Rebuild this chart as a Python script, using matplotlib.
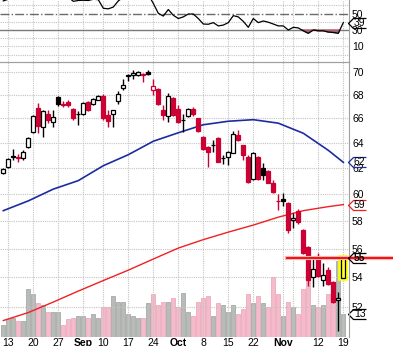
import numpy as np
import matplotlib
matplotlib.use("Agg")
from matplotlib import pyplot as plt
from matplotlib.path import Path
from matplotlib.ticker import NullLocator, NullFormatter
from matplotlib.transforms import blended_transform_factory

plt.rcParams['font.family'] = ['Liberation Sans', 'DejaVu Sans']

# Daily prices, trading days Aug 10 - Nov 19
opens = [61.6, 62.1, 62.95, 62.85, 62.8, 63.7, 64.9, 66.9, 65.3, 66.4,
         65.7, 67.8, 67.25, 67.35, 66.8, 66.4, 66.4, 67.4, 67.2, 67.6,
         67.9, 66.3, 66.4, 67.45, 68.6, 69.65, 69.7, 69.75, 69.8, 70.0,
         68.4, 68.5, 66.7, 66.2, 67.7, 66.8, 65.9, 66.2, 66.8, 66.0,
         64.5, 63.7, 63.85, 64.4, 62.8, 62.9, 63.2, 64.6, 63.8, 62.9,
         61.15, 62.9, 62.0, 61.8, 60.85, 59.5, 59.65, 59.35, 58.05, 58.75,
         57.35, 56.15, 54.0, 55.45, 53.8, 54.5, 53.7, 52.5, 53.95]
closes = [61.9, 62.7, 62.9, 62.8, 63.3, 64.4, 66.2, 65.4, 66.6, 65.9,
          66.1, 67.2, 67.15, 67.1, 66.0, 66.35, 67.3, 66.7, 67.65, 67.9,
          66.0, 65.75, 66.7, 68.1, 68.85, 69.75, 69.9, 70.0, 69.75, 69.8,
          68.8, 67.2, 66.3, 67.9, 66.3, 65.7, 65.85, 66.8, 66.35, 64.95,
          63.5, 63.3, 63.8, 62.5, 62.75, 63.3, 64.75, 64.2, 63.0, 60.9,
          63.2, 61.15, 61.45, 60.85, 60.15, 59.45, 59.5, 57.35, 58.2, 57.9,
          55.7, 53.8, 54.6, 54.1, 54.2, 53.55, 52.35, 52.65, 55.35]
highs = [62.0, 62.8, 63.5, 63.1, 63.4, 64.45, 66.3, 67.3, 66.7, 66.7,
         66.7, 67.9, 67.5, 67.55, 66.9, 66.6, 67.4, 67.5, 67.7, 68.0,
         68.05, 66.7, 66.75, 68.3, 69.35, 69.85, 70.15, 70.1, 69.9, 70.2,
         69.4, 68.55, 67.1, 68.15, 67.8, 67.1, 66.4, 66.9, 66.95, 66.05,
         64.55, 63.75, 64.2, 64.45, 63.0, 63.35, 64.95, 65.05, 63.85, 63.0,
         63.25, 62.95, 62.4, 61.85, 61.1, 60.0, 60.05, 59.4, 58.55, 58.85,
         57.4, 56.2, 55.5, 55.7, 55.0, 54.75, 53.75, 53.0, 55.5]
lows = [61.5, 62.0, 62.6, 62.45, 62.6, 63.6, 64.8, 64.8, 64.5, 65.6,
        65.3, 67.05, 67.0, 67.0, 65.9, 65.45, 66.3, 66.6, 67.1, 67.55,
        65.85, 65.3, 65.3, 67.2, 68.4, 69.2, 69.35, 69.6, 69.1, 69.75,
        68.0, 67.1, 65.85, 65.7, 66.2, 65.6, 64.85, 66.15, 66.2, 64.9,
        63.45, 62.1, 63.3, 62.45, 62.3, 62.2, 63.15, 64.15, 62.6, 60.85,
        61.1, 61.1, 61.1, 60.8, 60.05, 58.8, 59.1, 57.1, 57.45, 57.8,
        55.6, 53.4, 53.35, 54.05, 53.45, 53.5, 52.3, 50.5, 53.9]
volumes = [7, 10, 11, 9, 9, 27, 24, 19, 18, 14,
           14, 14, 7, 10, 11, 12, 12, 11, 13, 11,
           17, 17, 23, 20, 20, 13, 12, 11, 11, 19,
           24, 18, 20, 20, 22, 17, 25, 14, 12, 20,
           22, 23, 12, 19, 18, 14, 18, 13, 16, 24,
           19, 23, 19, 17, 34, 24, 12, 20, 17, 13,
           27, 32, 18, 17, 18, 24, 31, 43, 13]
rsi = [65.5, 67.5, 69, 68, 70, 72, 75, 70, 72, 69,
       70, 73, 71, 70, 65, 66, 66.3, 66, 67.5, 67,
       56.5, 55.8, 58, 65.5, 70, 72, 73, 74, 72, 73,
       62.5, 50.4, 47, 55, 48, 44, 46, 49.5, 49.5, 44,
       37.3, 37, 39, 35, 36, 39, 47.5, 46, 40.5, 33.3,
       44, 39, 41, 39.5, 37.3, 35, 35, 30, 33.3, 32.5,
       29, 26, 30, 29, 29, 27.5, 27, 26, 39]

# Moving averages, sampled weekly
ma_days = [0, 5, 10, 15, 20, 25, 30, 35, 40, 45, 50, 55, 60, 65, 68]
ma50 = [58.75, 59.48, 60.37, 61.02, 62.18, 63.05, 64.13, 64.82, 65.48,
        65.77, 65.9, 65.61, 64.78, 63.4, 62.45]
ma200 = [51.14, 51.66, 52.35, 53.08, 53.79, 54.5, 55.27, 56.04, 56.64,
         57.18, 57.69, 58.27, 58.75, 59.05, 59.2]

# Axis labels
date_ticks = [1, 6, 11, 16, 20, 25, 30, 35, 40, 45, 50, 56, 63, 68]
date_labels = ['13', '20', '27', 'Sep', '10', '17', '24', 'Oct', '8', '15',
               '22', 'Nov', '12', '19']
week_lines = [1, 6, 11, 16, 20, 25, 30, 35, 40, 45, 50, 56, 58, 63, 68]
price_ticks = [52, 54, 56, 58, 60, 62, 64, 66, 68, 70]
rsi_ticks = [50, 30, 10]

RED = '#cc0033'
GRID = '#c4c4c4'
SPINE = '#a0a0a0'
LEVEL_START = 56.7

x = np.arange(len(closes))
o = np.array(opens)
c = np.array(closes)
prev = np.r_[c[0], c[:-1]]
edges = [RED if c[i] < prev[i] else 'black' for i in x]
faces = ['white' if c[i] >= o[i] else edges[i] for i in x]
faces[-1] = '#ffff30'

# Figure and panels
fig = plt.figure(figsize=(3.93, 3.46), dpi=100)
rect_main = [0, 9 / 346, 349 / 393, 274.7 / 346]
rect_rsi = [0, 283.7 / 346, 349 / 393, 62.3 / 346]

ax_vol = fig.add_axes(rect_main)
ax = fig.add_axes(rect_main, sharex=ax_vol)
ax_rsi = fig.add_axes(rect_rsi, sharex=ax_vol)
ax_vol.set_zorder(1)
ax.set_zorder(2)
ax.set_facecolor('none')

# Volume bars behind prices
vol_faces = ['#f4bccb' if e == RED else '#b8bcb8' for e in edges]
vol_edges = ['#eaa0b4' if e == RED else '#9ca09c' for e in edges]
ax_vol.bar(x, volumes, width=0.8, color=vol_faces, edgecolor=vol_edges, linewidth=0.5)
ax_vol.set_ylim(0, 155)
ax_vol.axis('off')

# Price panel
ax.set_yscale('log')
ax.set_xlim(-0.66, 69.14)
ax.set_ylim(50.09, 70.85)
for p in price_ticks:
    ax.axhline(p, color=GRID, lw=0.8, ls=(0, (1, 1)), zorder=0.5)
for d in week_lines:
    ax.axvline(d, color=GRID, lw=0.8, ls=(0, (1, 1)), zorder=0.5)
    ax_rsi.axvline(d, color=GRID, lw=0.8, ls=(0, (1, 1)), zorder=0.5)

ax.plot(ma_days, ma50, color='#1c2ca0', lw=1.2, zorder=2.5)
ax.plot(ma_days, ma200, color='#f02020', lw=1.0, zorder=2.5)

# Candles
ax.vlines(x, lows, highs, colors=edges, lw=1, zorder=3)
ax.bar(x[-1:], np.abs(c - o)[-1:], bottom=np.minimum(o, c)[-1:], width=0.8,
       color='#ffff00', edgecolor='#ffff00', linewidth=4, zorder=3.5)
ax.bar(x, np.abs(c - o), bottom=np.minimum(o, c), width=0.8, color=faces,
       edgecolor=['black' if i == x[-1] else edges[i] for i in x],
       linewidth=0.9, zorder=4)

# Last close level
ax.plot([LEVEL_START, 78], [closes[-1]] * 2, color='#ffb4b4', lw=3, zorder=4.5, clip_on=False)
ax.plot([LEVEL_START, 78], [closes[-1]] * 2, color='#ee1111', lw=1.4, zorder=4.6, clip_on=False)

ax.yaxis.tick_right()
ax.set_yticks(price_ticks)
ax.set_yticklabels([str(p) for p in price_ticks])
ax.yaxis.set_minor_locator(NullLocator())
ax.yaxis.set_minor_formatter(NullFormatter())
ax.tick_params(axis='y', length=0, pad=2.2, labelsize=7.5)
ax.set_xticks(date_ticks)
ax.set_xticklabels(date_labels)
ax.tick_params(axis='x', length=0, pad=1, labelsize=7.5)
for lbl in ax.get_xticklabels():
    if not lbl.get_text().isdigit():
        lbl.set_fontweight('bold')

for s in ['left', 'bottom']:
    ax.spines[s].set_visible(False)
for s in ['right', 'top']:
    ax.spines[s].set_color(SPINE)

# RSI panel
ax_rsi.set_ylim(-9.4, 66.6)
for r in [0, 10, 20, 40, 60]:
    ax_rsi.axhline(r, color=GRID, lw=0.8, ls=(0, (1, 1)), zorder=0.5)
ax_rsi.axhline(30, color='#7a7a7a', lw=1.0, zorder=1)
ax_rsi.axhline(50, color='#6a6a6a', lw=1.0, ls='-.', zorder=1)
r = np.array(rsi)
ax_rsi.fill_between(x, r, 30, where=r < 30, interpolate=True, color='#a8606e', zorder=1.5)
ax_rsi.plot(x, r, color='black', lw=0.9, zorder=2)
ax_rsi.yaxis.tick_right()
ax_rsi.set_yticks(rsi_ticks)
ax_rsi.set_yticklabels([str(t) for t in rsi_ticks])
ax_rsi.tick_params(axis='y', length=0, pad=2.2, labelsize=7.5)
ax_rsi.tick_params(axis='x', length=0, labelbottom=False)
for s in ['left', 'top']:
    ax_rsi.spines[s].set_visible(False)
for s in ['right', 'bottom']:
    ax_rsi.spines[s].set_color(SPINE)

# Value tags on the right edge
tag_path = Path([(18, 5), (5, 5), (0, 0), (5, -5), (18, -5)],
                [Path.MOVETO, Path.LINETO, Path.LINETO, Path.LINETO, Path.LINETO])


def add_tag(axis, value, text, color, weight='normal'):
    trans = blended_transform_factory(axis.transAxes, axis.transData)
    axis.plot([0.998], [value], marker=tag_path, markersize=25.9, markeredgecolor=color,
              markerfacecolor='none', markeredgewidth=0.9, transform=trans,
              clip_on=False, zorder=6)
    axis.text(1.014, value, text, transform=trans, va='center', ha='left',
              fontsize=7.5, color='black', fontweight=weight, zorder=6)


add_tag(ax_rsi, rsi[-1], '%d' % round(rsi[-1]), 'black')
add_tag(ax, ma50[-1], '%d' % round(ma50[-1]), '#1c2ca0')
add_tag(ax, ma200[-1], '%d' % round(ma200[-1]), '#f02020')
add_tag(ax, closes[-1], '%d' % round(closes[-1]), 'black', weight='bold')
add_tag(ax_vol, volumes[-1], '%d' % volumes[-1], 'black')

fig.savefig('out.png', dpi=100)
